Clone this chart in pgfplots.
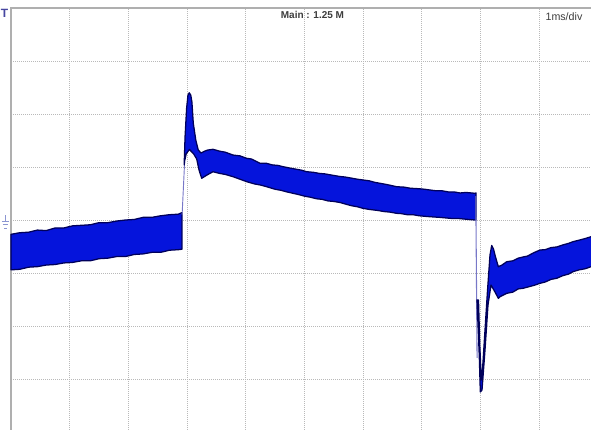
\documentclass[border=0pt]{standalone}
\usepackage{pgfplots}
\pgfplotsset{compat=1.18}
\usepackage{fontspec}
\setmainfont{Liberation Sans}
\definecolor{bandfill}{RGB}{5,20,220}
\definecolor{bandedge}{RGB}{0,0,90}
\definecolor{gridc}{RGB}{185,185,185}
\definecolor{framec}{RGB}{175,175,175}
\definecolor{txtc}{RGB}{60,60,60}
\definecolor{markc}{RGB}{70,70,160}
\definecolor{gndc}{RGB}{140,150,210}
\definecolor{edgec}{RGB}{120,120,200}
\begin{document}
\begin{tikzpicture}
\path[use as bounding box] (0,0) rectangle (443.25pt,321.75pt);
\clip (0,0) rectangle (443.25pt,321.75pt);
\begin{axis}[
  at={(8.25pt,-2.25pt)}, anchor=south west,
  scale only axis, width=440.25pt, height=318pt,
  xmin=0, xmax=10, ymin=-4, ymax=4,
  xtick={1,2,3,4,5,6,7,8,9}, ytick={-3,-2,-1,0,1,2,3},
  xticklabels={}, yticklabels={},
  major tick length=0pt,
  grid=major,
  major grid style={gridc, line width=0.7pt, dash pattern=on 0.75pt off 0.75pt},
  axis line style={framec, line width=1.3pt},
  clip=false,
]
% pre-step segment
\addplot[fill=bandfill, draw=bandedge, line width=0.95pt, line join=round] coordinates {
(0,-0.27) (0.15,-0.24) (0.3,-0.23) (0.45,-0.19) (0.6,-0.20) (0.75,-0.15) (0.9,-0.15)
(1.05,-0.11) (1.2,-0.10) (1.35,-0.09) (1.5,-0.05) (1.65,-0.05) (1.8,-0.02) (1.95,0.00)
(2.1,0.01) (2.25,0.05) (2.4,0.05) (2.55,0.08) (2.7,0.10) (2.85,0.11) (2.913,0.14)
(2.913,-0.55) (2.85,-0.56) (2.7,-0.57) (2.55,-0.61) (2.4,-0.61) (2.25,-0.64) (2.1,-0.65)
(1.95,-0.69) (1.8,-0.69) (1.65,-0.72) (1.5,-0.73) (1.35,-0.77) (1.2,-0.77) (1.05,-0.80)
(0.9,-0.81) (0.75,-0.84) (0.6,-0.85) (0.45,-0.88) (0.3,-0.89) (0.15,-0.93) (0,-0.94)
} -- cycle;
% rising edge line
\addplot[edgec, line width=0.7pt] coordinates {(2.915,0.10) (2.958,1.10)};
% spike and middle segment
\addplot[fill=bandfill, draw=bandedge, line width=0.95pt, line join=round] coordinates {
(2.950,1.038) (2.965,1.566) (2.992,2.113) (3.015,2.358) (3.037,2.40) (3.062,2.358)
(3.082,2.226) (3.105,1.830) (3.148,1.509) (3.190,1.321) (3.237,1.264) (3.305,1.302)
(3.356,1.321) (3.441,1.334) (3.55,1.30) (3.65,1.28) (3.782,1.226) (3.90,1.21)
(4.015,1.164) (4.10,1.15) (4.242,1.07) (4.35,1.07) (4.45,1.04) (4.55,1.03) (4.634,1.006)
(4.75,0.98) (4.85,0.96) (4.95,0.94) (5.037,0.911) (5.15,0.90) (5.25,0.88) (5.35,0.87)
(5.45,0.85) (5.605,0.821) (5.70,0.81) (5.80,0.79) (5.90,0.77) (5.997,0.755) (6.10,0.74)
(6.20,0.71) (6.30,0.69) (6.40,0.67) (6.571,0.628) (6.70,0.62) (6.80,0.60) (6.95,0.59)
(7.05,0.58) (7.138,0.566) (7.25,0.55) (7.35,0.55) (7.45,0.53) (7.55,0.53) (7.65,0.51)
(7.75,0.52) (7.905,0.504) (7.922,0.51)
(7.922,0.00) (7.905,0.00) (7.80,0.01) (7.70,0.02) (7.60,0.03) (7.50,0.03) (7.40,0.04)
(7.30,0.05) (7.138,0.062) (7.05,0.07) (6.95,0.08) (6.85,0.10) (6.75,0.10) (6.65,0.12)
(6.571,0.126) (6.45,0.15) (6.35,0.16) (6.25,0.18) (6.10,0.20) (5.997,0.22) (5.90,0.25)
(5.80,0.27) (5.70,0.30) (5.605,0.33) (5.50,0.35) (5.40,0.36) (5.30,0.39) (5.208,0.40)
(5.10,0.43) (5.00,0.45) (4.90,0.48) (4.804,0.504) (4.70,0.53) (4.60,0.56) (4.50,0.58)
(4.356,0.628) (4.25,0.66) (4.15,0.68) (4.015,0.723) (3.90,0.77) (3.782,0.817)
(3.65,0.86) (3.55,0.88) (3.441,0.911) (3.339,0.849) (3.249,0.787) (3.203,0.943)
(3.164,1.150) (3.110,1.250) (3.040,1.330) (2.985,1.250) (2.955,1.100)
} -- cycle;
% falling edge line
\addplot[edgec, line width=0.8pt] coordinates {(7.918,0.45) (7.94,-2.6)};
% post-fall segment
\addplot[fill=bandfill, draw=bandedge, line width=0.95pt, line join=round] coordinates {
(7.939,-1.509) (7.978,-2.585) (7.995,-3.245) (8.024,-3.208) (8.075,-2.453) (8.126,-1.604)
(8.177,-1.226) (8.245,-1.358) (8.302,-1.477) (8.33,-1.447) (8.445,-1.383) (8.55,-1.36)
(8.64,-1.30) (8.722,-1.289) (8.82,-1.26) (8.92,-1.23) (9.012,-1.194) (9.10,-1.17)
(9.20,-1.12) (9.296,-1.100) (9.40,-1.05) (9.50,-1.02) (9.574,-0.975) (9.68,-0.94)
(9.78,-0.92) (9.881,-0.881) (10,-0.85)
(10,-0.28) (9.881,-0.315) (9.78,-0.35) (9.68,-0.38) (9.574,-0.409) (9.50,-0.44)
(9.40,-0.47) (9.296,-0.509) (9.20,-0.52) (9.10,-0.56) (9.012,-0.566) (8.90,-0.62)
(8.80,-0.68) (8.722,-0.698) (8.64,-0.72) (8.55,-0.77) (8.445,-0.787) (8.365,-0.849)
(8.302,-0.881) (8.254,-0.698) (8.220,-0.547) (8.189,-0.481) (8.160,-0.660) (8.118,-1.321)
(8.075,-2.075) (8.032,-2.830) (8.012,-3.019) (7.986,-2.358) (7.964,-1.509)
} -- cycle;
% annotations
\node[txtc, font=\bfseries\fontsize{7.5}{8}\selectfont] at (axis cs:5.136,3.868) {Main : 1.25 M};
\node[txtc, font=\fontsize{8}{9}\selectfont] at (axis cs:9.42,3.84) {1ms/div};
\node[markc, font=\bfseries\fontsize{9}{10}\selectfont] at (axis cs:-0.11,3.89) {T};
\draw[gndc, line width=0.6pt] (axis cs:-0.094,0.094) -- (axis cs:-0.094,-0.019);
\draw[gndc, line width=0.6pt] (axis cs:-0.154,-0.019) -- (axis cs:-0.034,-0.019);
\draw[gndc, line width=0.6pt] (axis cs:-0.137,-0.085) -- (axis cs:-0.051,-0.085);
\draw[gndc, line width=0.6pt] (axis cs:-0.114,-0.151) -- (axis cs:-0.074,-0.151);
\end{axis}
\end{tikzpicture}
\end{document}
